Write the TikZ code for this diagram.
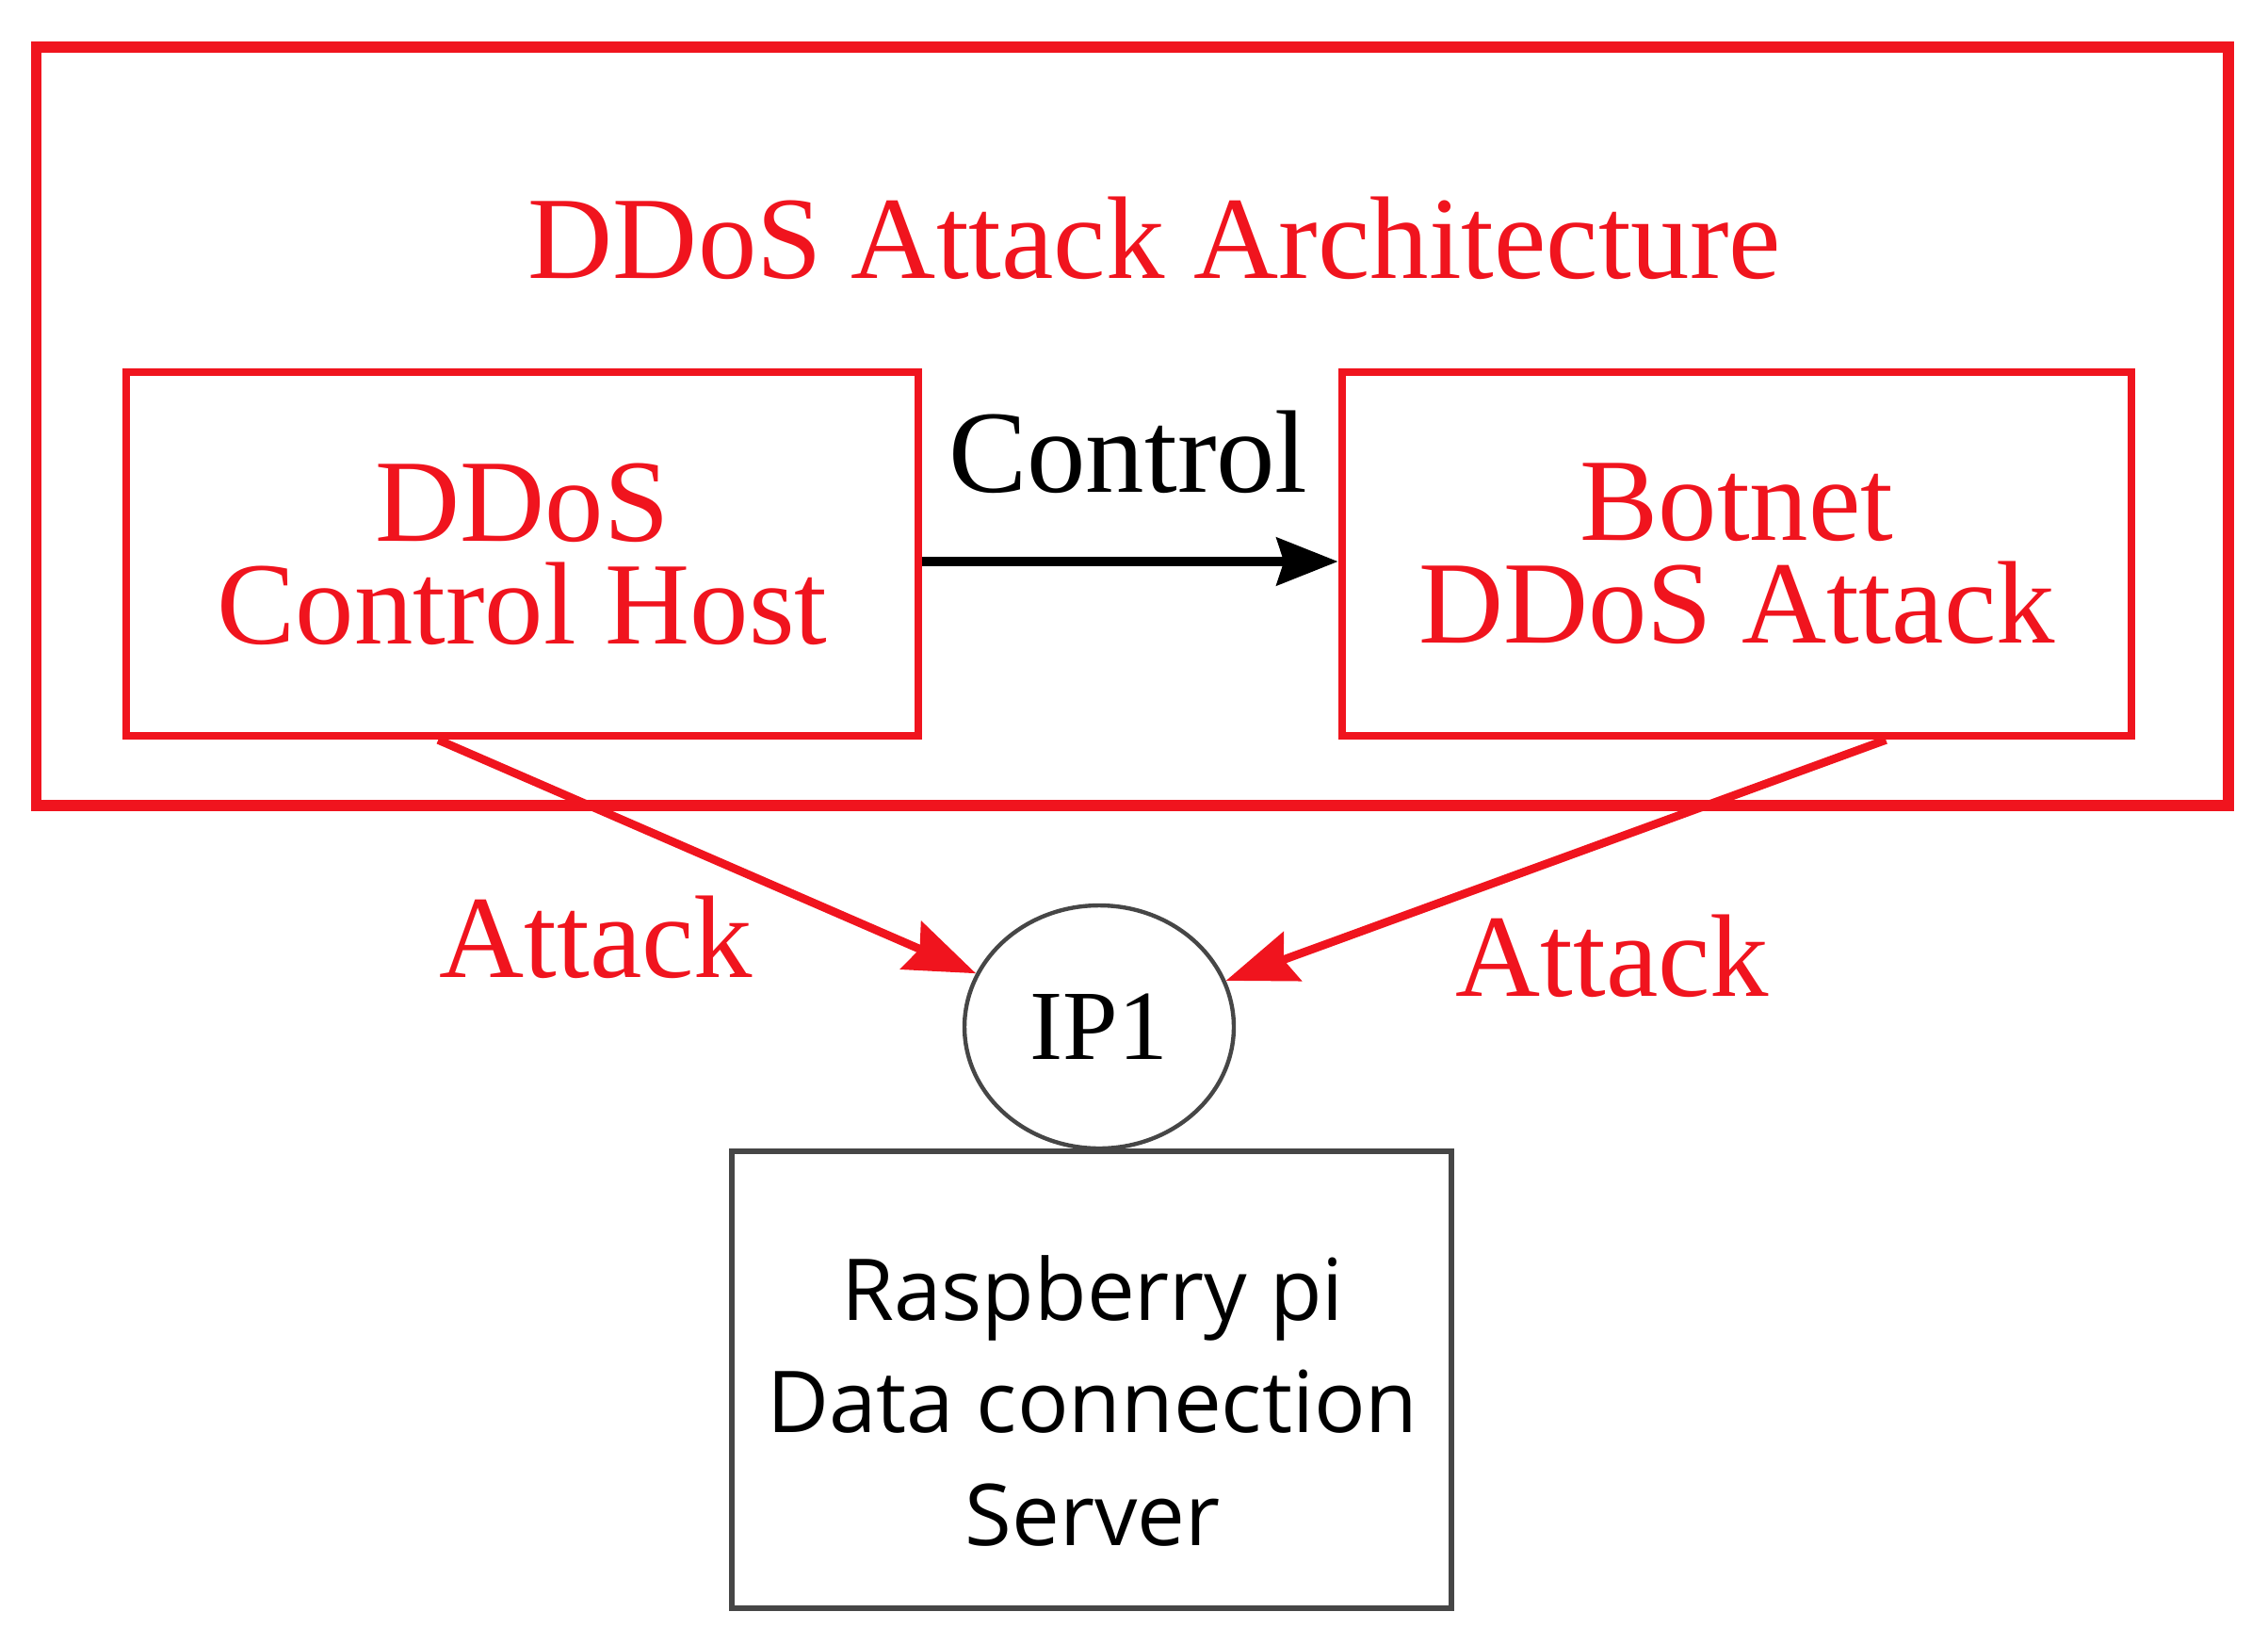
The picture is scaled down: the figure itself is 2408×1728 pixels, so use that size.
\documentclass[tikz,border=0pt]{standalone}
\usepackage{fontspec}
\setmainfont{Liberation Serif}
\newfontfamily\boxsans{Open Sans}
\usetikzlibrary{shapes.geometric,arrows.meta,calc}
\definecolor{ddred}{RGB}{240,20,30}
\definecolor{ddgray}{RGB}{70,70,70}
\begin{document}
\begin{tikzpicture}[x=0.02cm,y=-0.02cm,
  serifbig/.style={font=\fontsize{71}{62}\selectfont},
  redbox/.style={draw=ddred,line width=5pt,rectangle,inner sep=0pt,align=center,text=ddred,serifbig},
  redlabel/.style={text=ddred,serifbig,anchor=base,inner sep=0pt},
  attackarrow/.style={draw=ddred,line width=5pt,-{Stealth[length=1.5cm,width=1.1cm,inset=0.2cm]}},
  ctrlarrow/.style={draw=black,line width=6pt,-{Stealth[length=1.3cm,width=1cm,inset=0.15cm]}}]
\useasboundingbox (0,0) rectangle (2408,1728);
\node[draw=ddred,line width=6.5pt,minimum width=46.56cm,minimum height=16.1cm,inner sep=0pt] (outer) at (1202,452.5) {};
\node[redlabel] (title) at (1226,295) {DDoS Attack Architecture};
\node[redbox,minimum width=16.82cm,minimum height=7.72cm] (lbox) at (554.5,588) {DDoS\\Control Host};
\node[redbox,minimum width=16.76cm,minimum height=7.72cm] (rbox) at (1844,588) {Botnet\\DDoS Attack};
\node[serifbig,anchor=base,inner sep=0pt] (ctrl) at (1198,522) {Control};
\draw[ctrlarrow] ([yshift=-0.16cm]lbox.east) -- ([yshift=-0.16cm]rbox.west);
\node[draw=ddgray,line width=2.5pt,ellipse,minimum width=5.72cm,minimum height=5.16cm,inner sep=0pt] (ip) at (1167,1090) {};
\node[font=\fontsize{60}{60}\selectfont,anchor=base,inner sep=0pt] (iplabel) at (1167,1124) {IP1};
\coordinate (lstart) at ($(lbox.south west)!0.395!(lbox.south east)$);
\coordinate (rstart) at ($(rbox.south west)!0.687!(rbox.south east)$);
\draw[attackarrow] (lstart) -- (ip);
\draw[attackarrow] (rstart) -- (ip);
\node[redlabel] (latk) at (633,1037) {Attack};
\node[redlabel] (ratk) at (1712,1057) {Attack};
\node[draw=ddgray,line width=3.5pt,minimum width=15.28cm,minimum height=9.7cm,inner sep=0pt] (server) at (1159,1464.5) {};
\node[font=\boxsans\fontsize{51.6}{68}\selectfont,align=center,anchor=base,inner sep=0pt] (servertext) at (1160,1640) {Raspberry pi\\Data connection\\Server};
\end{tikzpicture}
\end{document}
